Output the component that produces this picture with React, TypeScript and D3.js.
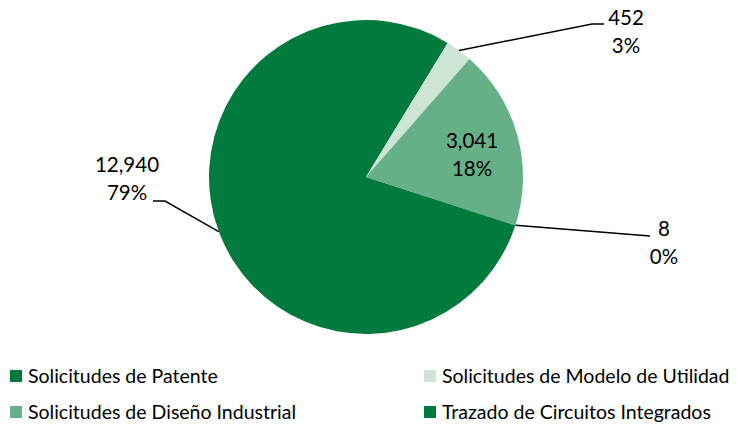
import { useRef, useEffect } from 'react';
import * as d3 from 'd3';

const categories = [
  'Solicitudes de Patente',
  'Solicitudes de Modelo de Utilidad',
  'Solicitudes de Diseño Industrial',
  'Trazado de Circuitos Integrados',
];
const values = [12940, 452, 3041, 8];
const colors = ['#007A3D', '#CCE5D5', '#66B087', '#007A3D'];

// label placement (text block centre) and elbow end of the leader line
const labelPos = [
  { x: 127, y: 179, elbowX: 165, endX: 153, endY: 201, inside: false },
  { x: 626, y: 32, elbowX: 592, endX: 604, endY: 24, inside: false },
  { x: 472, y: 155, elbowX: 0, endX: 0, endY: 0, inside: true },
  { x: 664, y: 243, elbowX: 650, endX: 650, endY: 236, inside: false },
];

const W = 737;
const H = 427;
const FONT = 'Lato, "Open Sans", sans-serif';

export default function App() {
  const svgRef = useRef<SVGSVGElement>(null);

  useEffect(() => {
    const svg = d3.select(svgRef.current);
    svg.selectAll('*').remove();

    const cx = 366;
    const cy = 177;
    const r = 157;
    const start = (108 * Math.PI) / 180;

    const total = d3.sum(values);
    const pie = d3.pie<number>().sort(null).startAngle(start).endAngle(start + 2 * Math.PI);
    const arcs = pie(values);
    const arc = d3.arc<d3.PieArcDatum<number>>().innerRadius(0).outerRadius(r);

    const g = svg.append('g').attr('transform', `translate(${cx},${cy})`);
    g.selectAll('path')
      .data(arcs)
      .join('path')
      .attr('d', arc)
      .attr('fill', (d, i) => colors[i]);

    const fmt = d3.format(',');
    arcs.forEach((d, i) => {
      const p = labelPos[i];
      const mid = (d.startAngle + d.endAngle) / 2;
      if (!p.inside) {
        const sx = cx + r * Math.sin(mid);
        const sy = cy - r * Math.cos(mid);
        svg.append('polyline')
          .attr('points', `${sx},${sy} ${p.elbowX},${p.endY} ${p.endX},${p.endY}`)
          .attr('fill', 'none')
          .attr('stroke', '#000')
          .attr('stroke-width', 1.5);
      }
      const t = svg.append('g')
        .attr('text-anchor', 'middle')
        .attr('font-family', FONT)
        .attr('font-size', 20.5)
        .attr('fill', '#000');
      t.append('text').attr('x', p.x).attr('y', p.y - 14).attr('dy', '0.35em').text(fmt(d.data));
      t.append('text').attr('x', p.x).attr('y', p.y + 14).attr('dy', '0.35em')
        .text(`${Math.round((d.data / total) * 100)}%`);
    });

    // legend
    const lx = [10, 424];
    const ly = [376, 412];
    categories.forEach((c, i) => {
      const x = lx[i % 2];
      const y = ly[Math.floor(i / 2)];
      svg.append('rect')
        .attr('x', x)
        .attr('y', y - 6)
        .attr('width', 12)
        .attr('height', 12)
        .attr('fill', colors[i]);
      svg.append('text')
        .attr('x', x + 18)
        .attr('y', y)
        .attr('dy', '0.35em')
        .attr('font-family', FONT)
        .attr('font-size', 19.5)
        .attr('fill', '#000')
        .text(c);
    });
  }, []);

  return (
    <svg
      ref={svgRef}
      width={W}
      height={H}
      style={{ position: 'absolute', left: 0, top: 0, background: '#fff' }}
    />
  );
}
